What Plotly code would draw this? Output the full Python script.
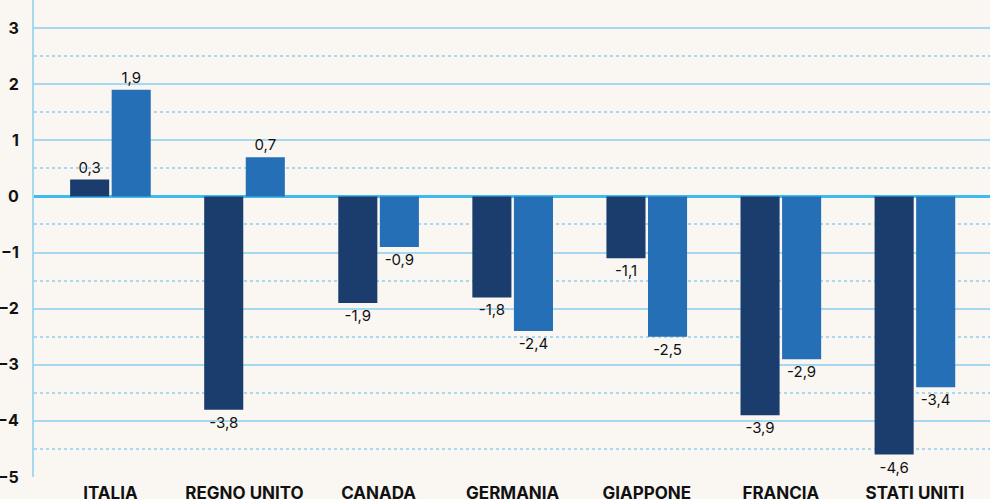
import plotly.graph_objects as go

# Dati
paesi = ["ITALIA", "REGNO UNITO", "CANADA", "GERMANIA", "GIAPPONE", "FRANCIA", "STATI UNITI"]
serie_a = [0.3, -3.8, -1.9, -1.8, -1.1, -3.9, -4.6]
serie_b = [1.9, 0.7, -0.9, -2.4, -2.5, -2.9, -3.4]

COLOR_DARK = "#1b3d6e"
COLOR_LIGHT = "#246fb6"
GRID = "#a6d8ef"
ZERO = "#3dbbea"
BG = "#faf7f2"


def _fmt(v):
    return f"{v:.1f}".replace(".", ",")


fig = go.Figure()
for vals, col in [(serie_a, COLOR_DARK), (serie_b, COLOR_LIGHT)]:
    fig.add_trace(go.Bar(
        x=paesi, y=vals, marker_color=col, marker_line_width=0,
        text=[_fmt(v) for v in vals], textposition="outside",
        textfont=dict(size=15, color="#111111", family="Inter, sans-serif"),
        cliponaxis=False,
    ))

fig.update_layout(
    width=990, height=499,
    barmode="group", bargap=0.38, bargroupgap=0.06,
    showlegend=False,
    margin=dict(l=34, r=0, t=0, b=22),
    plot_bgcolor=BG, paper_bgcolor=BG,
    font=dict(family="Inter, sans-serif", color="#111111"),
    xaxis=dict(
        range=[-0.57, 6.56], showgrid=False, ticks="", ticklen=0,
        automargin=False, ticklabelstandoff=4,
        tickfont=dict(size=17, family="Inter, sans-serif", weight="bold", color="#111111"),
    ),
    yaxis=dict(
        range=[-5, 3.5], dtick=1, tick0=0,
        showgrid=True, gridcolor=GRID, gridwidth=1.5,
        zeroline=True, zerolinecolor=ZERO, zerolinewidth=3,
        showline=True, linecolor=GRID, linewidth=2,
        ticks="", automargin=False, ticklabelstandoff=10,
        tickfont=dict(size=16, family="Inter, sans-serif", weight="bold", color="#111111"),
        minor=dict(dtick=0.5, tick0=0, showgrid=True, gridcolor=GRID, griddash="dot", gridwidth=1.5),
    ),
)

fig.write_html("out.html", config={"displayModeBar": False},
               post_script="document.body.style.margin='0';")
